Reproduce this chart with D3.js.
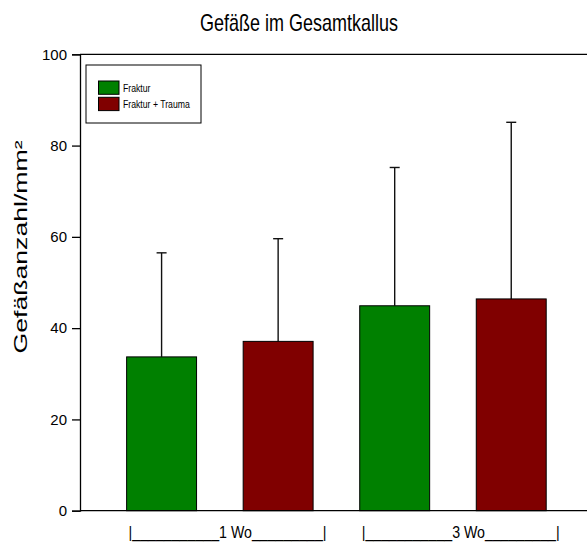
<!DOCTYPE html>
<html>
<head>
<meta charset="utf-8">
<script src="https://cdn.jsdelivr.net/npm/d3@7"></script>
<style>
  html, body { margin: 0; padding: 0; background: #fff; }
  svg { display: block; font-family: Arial, "Liberation Sans", sans-serif; }
</style>
</head>
<body>
<svg id="chart" width="587" height="542"></svg>
<script>
// Vessel density in the whole callus, per group and time point
const groups = ["1 Wo", "3 Wo"];
const groupLabels = ["|___________1 Wo_________|", "|___________3 Wo_________|"];
const series = ["Fraktur", "Fraktur + Trauma"];
const colors = ["#008000", "#800000"];
const means = [33.7, 37.1, 44.9, 46.4];      // bar order: 1 Wo F, 1 Wo F+T, 3 Wo F, 3 Wo F+T
const sdUpper = [56.5, 59.6, 75.2, 85.1];    // top of error bar
const yTicks = [0, 20, 40, 60, 80, 100];

const svg = d3.select("#chart");
const plotLeft = 80, plotRight = 587, plotTop = 54.3, plotBottom = 510.7;

const x = d3.scaleLinear().domain([0.3, 4.65]).range([plotLeft, plotRight]);
const y = d3.scaleLinear().domain([0, 100]).range([plotBottom, plotTop]);
const barW = x(0.6) - x(0);

const bars = means.map((m, i) => ({
  pos: i + 1,
  mean: m,
  upper: sdUpper[i],
  color: colors[i % 2]
}));

// frame line along the top
svg.append("line").attr("x1", plotLeft).attr("x2", plotRight).attr("y1", plotTop).attr("y2", plotTop)
  .attr("stroke", "#000").attr("stroke-width", 1.3);

// error bars (upper only)
const eb = svg.append("g").attr("stroke", "#111").attr("stroke-width", 1.4);
bars.forEach(d => {
  eb.append("line").attr("x1", x(d.pos)).attr("x2", x(d.pos))
    .attr("y1", y(d.mean)).attr("y2", y(d.upper));
  eb.append("line").attr("x1", x(d.pos) - 5).attr("x2", x(d.pos) + 5)
    .attr("y1", y(d.upper)).attr("y2", y(d.upper));
});

// bars
svg.append("g").selectAll("rect").data(bars).join("rect")
  .attr("x", d => x(d.pos) - barW / 2)
  .attr("width", barW)
  .attr("y", d => y(d.mean))
  .attr("height", d => y(0) - y(d.mean))
  .attr("fill", d => d.color)
  .attr("stroke", "#000")
  .attr("stroke-width", 1);

// y axis
const yAxis = d3.axisLeft(y).tickValues(yTicks).tickSize(8).tickPadding(5).tickFormat(d3.format("d"));
const ya = svg.append("g").attr("transform", `translate(${plotLeft},0)`).call(yAxis);
ya.select(".domain").attr("stroke-width", 1.3);
ya.selectAll(".tick line").attr("stroke-width", 1.3);
ya.selectAll("text").attr("font-size", 15).attr("fill", "#000");

// bottom axis line
svg.append("line").attr("x1", plotLeft).attr("x2", plotRight).attr("y1", plotBottom).attr("y2", plotBottom)
  .attr("stroke", "#000").attr("stroke-width", 1.3);

// group labels under the bars
groups.forEach((g, gi) => {
  const x0 = x(gi * 2 + 1) - barW / 2 + 2;
  svg.append("text")
    .attr("transform", `translate(${x0},538) scale(1,1.1)`)
    .attr("font-size", 14.2)
    .attr("fill", "#000")
    .text(groupLabels[gi]);
});

// title
svg.append("text")
  .attr("transform", `translate(299,31) scale(1,1.3)`)
  .attr("text-anchor", "middle")
  .attr("font-size", 18)
  .attr("fill", "#000")
  .text("Gefäße im Gesamtkallus");

// y axis title
svg.append("text")
  .attr("transform", `translate(27,247) rotate(-90) scale(1.48,1)`)
  .attr("text-anchor", "middle")
  .attr("font-size", 18)
  .attr("fill", "#000")
  .text("Gefäßanzahl/mm²");

// legend
const lg = svg.append("g");
lg.append("rect").attr("x", 86).attr("y", 65).attr("width", 115).attr("height", 58)
  .attr("fill", "#fff").attr("stroke", "#000").attr("stroke-width", 1);
series.forEach((s, i) => {
  lg.append("rect").attr("x", 98.5).attr("y", 81 + i * 16.3).attr("width", 20.5).attr("height", 13.3)
    .attr("fill", colors[i]).attr("stroke", "#000").attr("stroke-width", 1);
  lg.append("text")
    .attr("transform", `translate(123,${91.5 + i * 16.3}) scale(1,1.15)`)
    .attr("font-size", 8.7)
    .attr("fill", "#000")
    .text(s);
});
</script>
</body>
</html>
